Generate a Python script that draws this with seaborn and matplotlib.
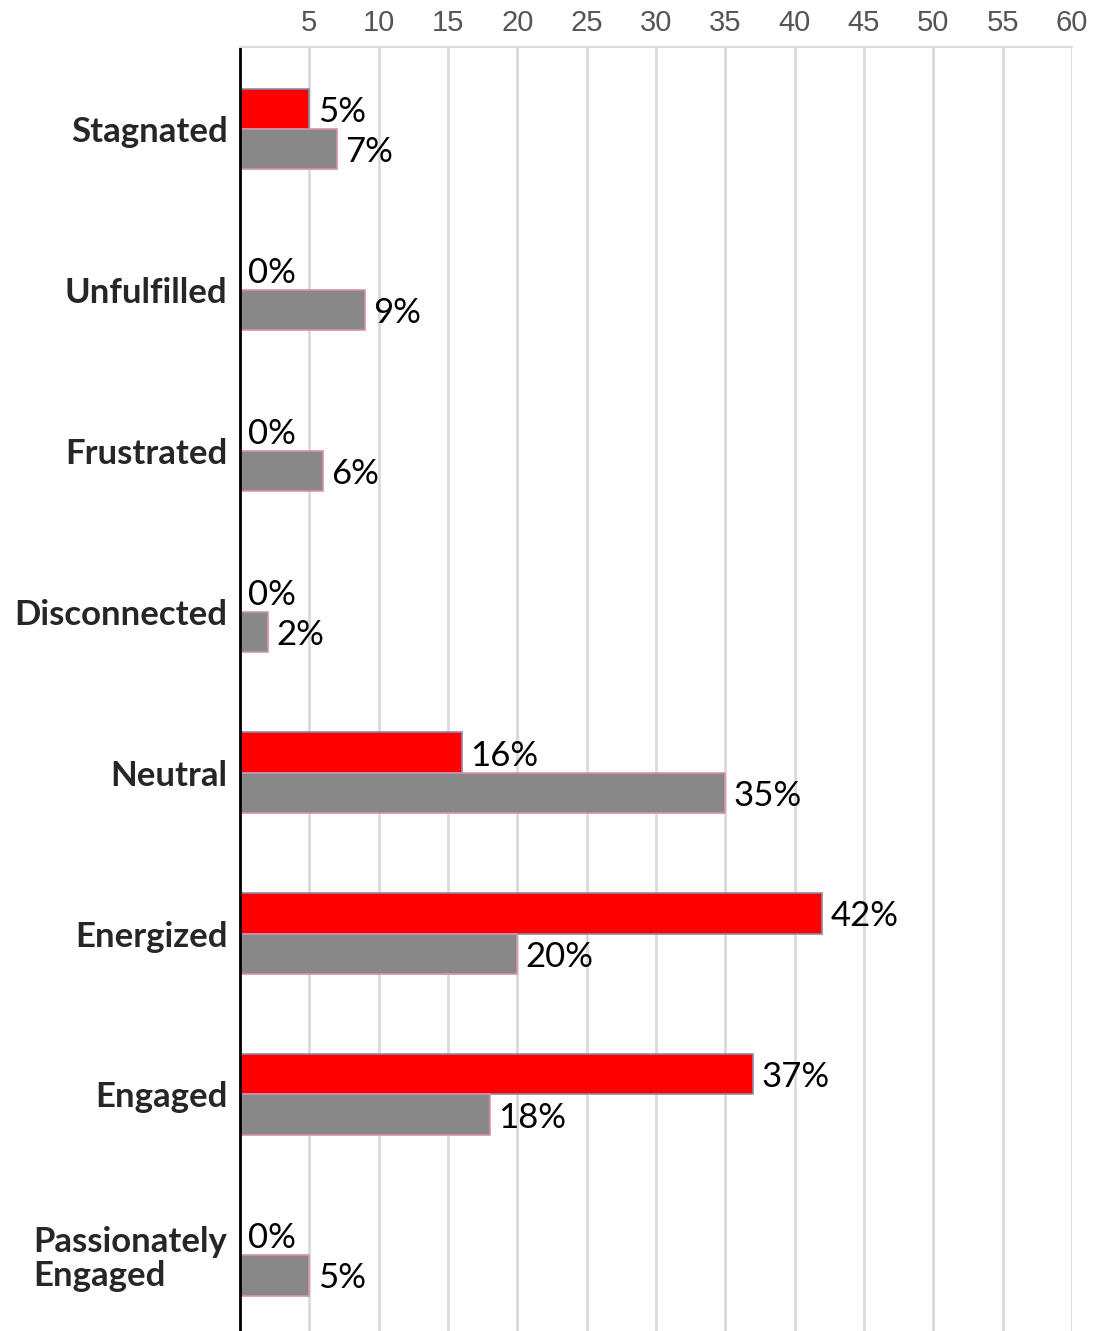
import pandas as pd
import numpy as np
import matplotlib
matplotlib.use('Agg')
import matplotlib.pyplot as plt
import seaborn as sns

#categories and the two series (percent)
categories = ['Stagnated', 'Unfulfilled', 'Frustrated', 'Disconnected',
              'Neutral', 'Energized', 'Engaged', 'Passionately\nEngaged']
red_vals = [5, 0, 0, 0, 16, 42, 37, 0]
gray_vals = [7, 9, 6, 2, 35, 20, 18, 5]
series_names = ['Series 1', 'Series 2']
xtick_vals = list(range(5, 61, 5))

df = pd.DataFrame({
    'category': categories * 2,
    'value': red_vals + gray_vals,
    'series': [series_names[0]] * len(categories) + [series_names[1]] * len(categories),
})

sns.set_theme(style='white')
plt.rcParams['font.family'] = ['Lato', 'DejaVu Sans']

fig = plt.figure(figsize=(11.03, 13.31), dpi=100)
ax = fig.add_axes([0.2176, 0.0, 0.9719 - 0.2176, 1 - 47 / 1331])

sns.barplot(data=df, y='category', x='value', hue='series', orient='h',
            palette=['#ff0000', '#888888'], width=0.5, dodge=True,
            legend=False, ax=ax, saturation=1)

#edge colours like the original
edgecols = ['#8a8aaa', '#d890b0']
for cont, ec in zip(ax.containers, edgecols):
    for bar in cont:
        bar.set_edgecolor(ec)
        bar.set_linewidth(1.2)
    labs = ax.bar_label(cont, fmt='%g%%', padding=6, fontsize=25, color='black')
    for l in labs:
        l.set_va('center_baseline')

ax.set_xlim(0, 60)
ax.set_ylim(7.47, -0.51)
ax.set_xticks(xtick_vals)
ax.xaxis.tick_top()
ax.tick_params(axis='x', length=0, pad=7, labelsize=21, labelcolor='#555555')
for t in ax.get_xticklabels():
    t.set_fontfamily(['Liberation Sans', 'DejaVu Sans'])
ax.tick_params(axis='y', length=0, pad=9, labelsize=25)
for t in ax.get_yticklabels():
    t.set_fontweight('bold')
    t.set_multialignment('left')
    t.set_linespacing(1.05)

ax.set_xlabel('')
ax.set_ylabel('')
ax.grid(axis='x', color='#dadada', linewidth=2)
ax.set_axisbelow(True)
for s in ['right', 'bottom']:
    ax.spines[s].set_visible(False)
ax.spines['top'].set_color('#dadada')
ax.spines['top'].set_linewidth(1.5)
ax.spines['left'].set_color('black')
ax.spines['left'].set_linewidth(2)

fig.savefig('out.png', dpi=100)
